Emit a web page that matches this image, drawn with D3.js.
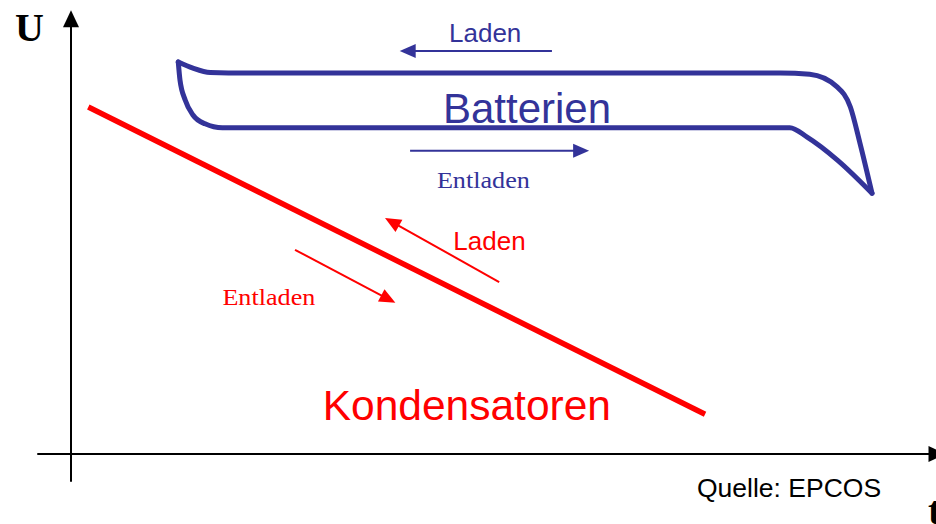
<!DOCTYPE html>
<html>
<head>
<meta charset="utf-8">
<script src="https://cdn.jsdelivr.net/npm/d3@7"></script>
<style>
  html, body { margin: 0; padding: 0; background: #fff; }
  svg { display: block; }
</style>
</head>
<body>
<svg width="936" height="524"></svg>
<script>
// schematic: voltage U over time t, values in relative units 0..100
const BATTERY_UPPER = [
  [12.4, 88.7], [14.1, 87.3], [16.1, 86.3], [18.2, 86.2],
  [82.0, 86.2], [85.4, 85.9], [88.6, 83.0], [90.1, 78.5], [91.2, 70.4], [92.6, 59.0]
];
const BATTERY_LOWER = [
  [12.4, 88.7], [12.6, 84.6], [13.2, 80.1], [14.1, 76.7], [15.5, 74.7], [17.5, 73.8],
  [83.1, 73.8], [85.1, 71.7], [88.6, 66.5], [92.6, 59.0]
];
const CAPACITOR = [[2.0, 78.5], [73.3, 9.0]];

const ARROWS = [
  { from: [55.6, 91.2], to: [38.0, 91.2], color: '#333399' },
  { from: [39.2, 68.6], to: [59.9, 68.6], color: '#333399' },
  { from: [49.5, 38.9], to: [36.3, 53.4], color: '#ff0000' },
  { from: [25.9, 46.2], to: [37.5, 34.2], color: '#ff0000' }
];

const LABELS = [
  { text: 'Laden', at: [43.7, 93.2], color: '#333399', font: 'Liberation Sans, Arial, sans-serif', size: 26 },
  { text: 'Batterien', at: [43.0, 74.9], color: '#333399', font: 'Liberation Sans, Arial, sans-serif', size: 42 },
  { text: 'Entladen', at: [42.3, 60.2], color: '#333399', font: 'Liberation Serif, Times New Roman, serif', size: 24, len: 93 },
  { text: 'Laden', at: [44.2, 46.2], color: '#ff0000', font: 'Liberation Sans, Arial, sans-serif', size: 26 },
  { text: 'Entladen', at: [17.5, 33.7], color: '#ff0000', font: 'Liberation Serif, Times New Roman, serif', size: 24, len: 93 },
  { text: 'Kondensatoren', at: [29.1, 7.7], color: '#ff0000', font: 'Liberation Sans, Arial, sans-serif', size: 42.5 }
];

const SVG = d3.select('svg');

const X_SCALE = d3.scaleLinear().domain([0, 100]).range([71, 936]);
const Y_SCALE = d3.scaleLinear().domain([0, 100]).range([454, 12]);

// arrowhead as triangle at the "to" end
function arrowHead(x1, y1, x2, y2, len, half) {
  const a = Math.atan2(y2 - y1, x2 - x1);
  const bx = x2 - len * Math.cos(a);
  const by = y2 - len * Math.sin(a);
  const px = -Math.sin(a) * half;
  const py = Math.cos(a) * half;
  return `M${x2},${y2}L${bx + px},${by + py}L${bx - px},${by - py}Z`;
}

function drawArrow(g, x1, y1, x2, y2, color, width, len, half) {
  const a = Math.atan2(y2 - y1, x2 - x1);
  g.append('line')
    .attr('x1', x1).attr('y1', y1)
    .attr('x2', x2 - (len - 1) * Math.cos(a)).attr('y2', y2 - (len - 1) * Math.sin(a))
    .style('stroke', color)
    .style('stroke-width', width);
  g.append('path')
    .attr('d', arrowHead(x1, y1, x2, y2, len, half))
    .style('fill', color);
}

// axes
const AXES = SVG.append('g').attr('id', 'axes');
drawArrow(AXES, X_SCALE(0), Y_SCALE(-6.3), X_SCALE(0), Y_SCALE(100.4), '#000', 2, 17, 8);
drawArrow(AXES, X_SCALE(-3.9), Y_SCALE(0), X_SCALE(101.1), Y_SCALE(0), '#000', 2, 17, 8);

// battery curve (x is monotone along each branch)
const CURVED = d3.line()
  .x(d => X_SCALE(d[0]))
  .y(d => Y_SCALE(d[1]))
  .curve(d3.curveMonotoneX);
const STRAIGHT = d3.line()
  .x(d => X_SCALE(d[0]))
  .y(d => Y_SCALE(d[1]));

const BAT = SVG.append('g').attr('id', 'battery');
[BATTERY_UPPER, BATTERY_LOWER].forEach(pts => {
  BAT.append('path')
    .attr('d', CURVED(pts))
    .style('fill', 'none')
    .style('stroke', '#333399')
    .style('stroke-width', 5)
    .style('stroke-linecap', 'round');
});

// capacitor line
SVG.append('path')
  .attr('d', STRAIGHT(CAPACITOR))
  .style('fill', 'none')
  .style('stroke', '#ff0000')
  .style('stroke-width', 5.5);

// direction arrows
const ARR = SVG.append('g').attr('id', 'arrows');
ARROWS.forEach(d => {
  drawArrow(ARR, X_SCALE(d.from[0]), Y_SCALE(d.from[1]), X_SCALE(d.to[0]), Y_SCALE(d.to[1]), d.color, 2, 16, 7);
});

// labels
LABELS.forEach(d => {
  const t = SVG.append('text')
    .text(d.text)
    .attr('x', X_SCALE(d.at[0]))
    .attr('y', Y_SCALE(d.at[1]))
    .style('font-family', d.font)
    .style('font-size', d.size + 'px')
    .style('fill', d.color);
  if (d.len) t.attr('textLength', d.len).attr('lengthAdjust', 'spacingAndGlyphs');
});

// axis titles and source
SVG.append('text')
  .text('U')
  .attr('x', 15)
  .attr('y', 41)
  .style('font-family', 'Liberation Serif, Times New Roman, serif')
  .style('font-weight', 'bold')
  .style('font-size', '40px');

SVG.append('text')
  .text('t')
  .attr('x', 928)
  .attr('y', 524)
  .style('font-family', 'Liberation Serif, Times New Roman, serif')
  .style('font-weight', 'bold')
  .style('font-size', '40px');

SVG.append('text')
  .text('Quelle: EPCOS')
  .attr('x', 697)
  .attr('y', 497)
  .style('font-family', 'Liberation Sans, Arial, sans-serif')
  .style('font-size', '26.5px');
</script>
</body>
</html>
